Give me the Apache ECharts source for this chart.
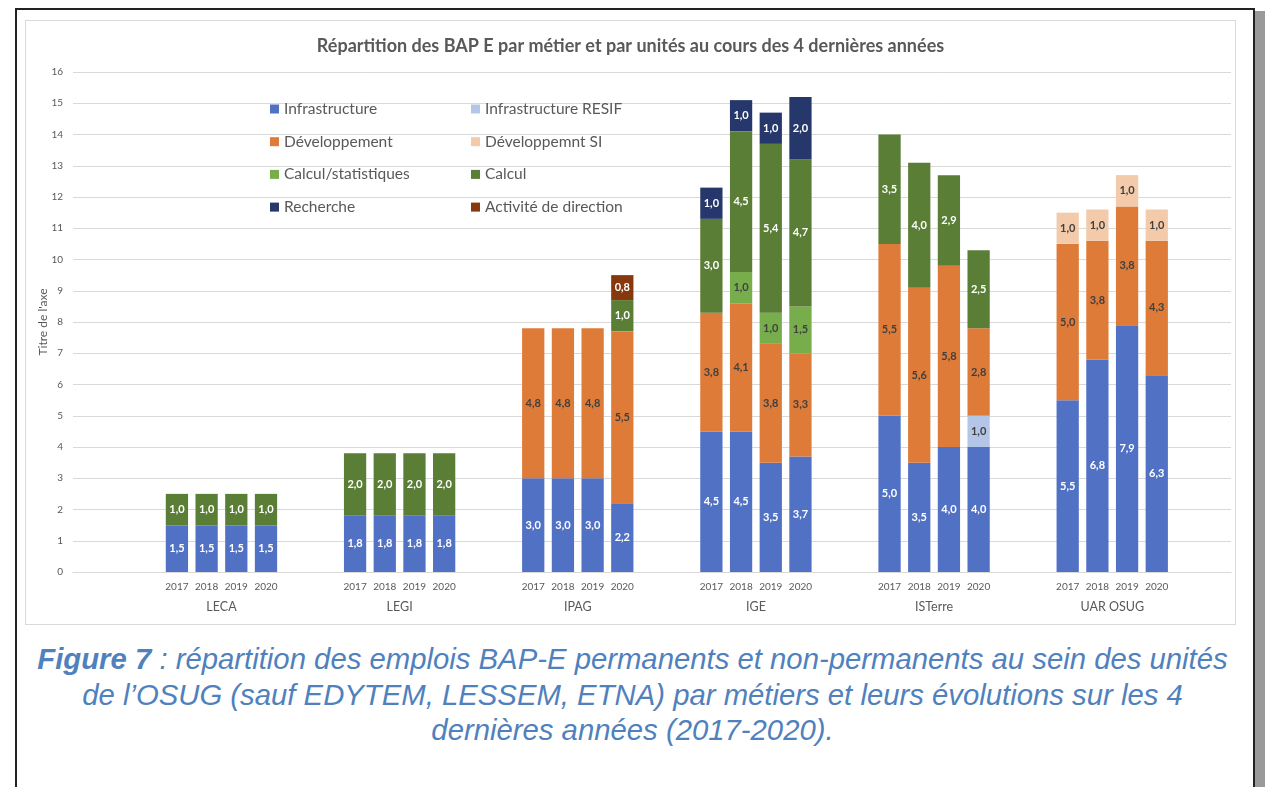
<!DOCTYPE html>
<html>
<head>
<meta charset="utf-8">
<script src="https://cdn.jsdelivr.net/npm/echarts@6/dist/echarts.min.js"></script>
<style>
  html, body { margin: 0; padding: 0; background: #fff; width: 1265px; height: 787px; overflow: hidden; }
  #frame { position: absolute; left: 15px; top: 8px; width: 1236px; height: 800px; border: 2px solid #222; border-bottom: none; }
  #shadow { position: absolute; left: 1255px; top: 11px; width: 10px; height: 790px; background: #9a9a9a; }
  #box { position: absolute; left: 25px; top: 20px; width: 1211px; height: 605px; border: 1px solid #d9d9d9; box-sizing: border-box; }
  #chart { width: 100%; height: 100%; }
  #caption { position: absolute; left: 0px; top: 641px; width: 1265px; text-align: center;
    font-family: "Liberation Sans", Arial, sans-serif; font-style: italic; font-size: 29.3px;
    line-height: 35.5px; color: #4f81bd; white-space: nowrap; }
  #caption b { font-weight: bold; }
</style>
</head>
<body>
<div id="frame"></div>
<div id="shadow"></div>
<div id="box"><div id="chart"></div></div>
<div id="caption"><b>Figure 7</b> : répartition des emplois BAP-E permanents et non-permanents au sein des unités<br>de l’OSUG (sauf EDYTEM, LESSEM, ETNA) par métiers et leurs évolutions sur les 4<br>dernières années (2017-2020).</div>
<script>
// catégories
var groups = ['LECA', 'LEGI', 'IPAG', 'IGE', 'ISTerre', 'UAR OSUG'];
var years = ['2017', '2018', '2019', '2020'];
var yTicks = [0, 16, 1];

// valeurs : 6 unités x 4 années
var infra     = [1.5, 1.5, 1.5, 1.5,  1.8, 1.8, 1.8, 1.8,  3.0, 3.0, 3.0, 2.2,  4.5, 4.5, 3.5, 3.7,  5.0, 3.5, 4.0, 4.0,  5.5, 6.8, 7.9, 6.3];
var resif     = [null, null, null, null,  null, null, null, null,  null, null, null, null,  null, null, null, null,  null, null, null, 1.0,  null, null, null, null];
var dev       = [null, null, null, null,  null, null, null, null,  4.8, 4.8, 4.8, 5.5,  3.8, 4.1, 3.8, 3.3,  5.5, 5.6, 5.8, 2.8,  5.0, 3.8, 3.8, 4.3];
var devSI     = [null, null, null, null,  null, null, null, null,  null, null, null, null,  null, null, null, null,  null, null, null, null,  1.0, 1.0, 1.0, 1.0];
var calcStat  = [null, null, null, null,  null, null, null, null,  null, null, null, null,  null, 1.0, 1.0, 1.5,  null, null, null, null,  null, null, null, null];
var calcul    = [1.0, 1.0, 1.0, 1.0,  2.0, 2.0, 2.0, 2.0,  null, null, null, 1.0,  3.0, 4.5, 5.4, 4.7,  3.5, 4.0, 2.9, 2.5,  null, null, null, null];
var recherche = [null, null, null, null,  null, null, null, null,  null, null, null, null,  1.0, 1.0, 1.0, 2.0,  null, null, null, null,  null, null, null, null];
var direction = [null, null, null, null,  null, null, null, null,  null, null, null, 0.8,  null, null, null, null,  null, null, null, null,  null, null, null, null];

// comme dans Excel : 3 cases vides au début, 2 entre chaque unité
var lead = 3, gap = 2;

function slots(arr) {
  var out = [];
  for (var i = 0; i < lead; i++) out.push(arr === null ? '' : null);
  for (var g = 0; g < groups.length; g++) {
    for (var y = 0; y < years.length; y++) out.push(arr === null ? years[y] : arr[g * years.length + y]);
    for (var k = 0; k < gap; k++) out.push(arr === null ? '' : null);
  }
  return out;
}
var cats = slots(null);
var groupPos = groups.map(function (g, i) { return lead + i * (years.length + gap) + years.length / 2; });

var font = 'Lato, "Open Sans", sans-serif';
var dark = '#404040';

function serie(name, data, color, labelColor) {
  return {
    name: name, type: 'bar', stack: 'total', data: slots(data),
    barCategoryGap: '25%',
    itemStyle: { color: color },
    label: {
      show: true, position: 'inside', color: labelColor,
      fontFamily: font, fontWeight: 'bold', fontSize: 11,
      formatter: function (p) { return p.value == null ? '' : p.value.toFixed(1).replace('.', ','); }
    }
  };
}

var chart = echarts.init(document.getElementById('chart'));

var legendText = { color: '#595959', fontSize: 15.5, fontFamily: font, lineHeight: 15 };

chart.setOption({
  animation: false,
  textStyle: { fontFamily: font },
  title: {
    text: 'Répartition des BAP E par métier et par unités au cours des 4 dernières années',
    left: 'center', top: 11,
    textStyle: { color: '#595959', fontSize: 18, fontWeight: 'bold', fontFamily: font }
  },
  legend: [
    { data: ['Infrastructure', 'Développement', 'Calcul/statistiques', 'Recherche'],
      orient: 'vertical', left: 239, top: 75, itemWidth: 9, itemHeight: 9, itemGap: 16.7,
      icon: 'rect', textStyle: legendText, selectedMode: false },
    { data: ['Infrastructure RESIF', 'Développemnt SI', 'Calcul', 'Activité de direction'],
      orient: 'vertical', left: 440, top: 75, itemWidth: 9, itemHeight: 9, itemGap: 16.7,
      icon: 'rect', textStyle: legendText, selectedMode: false }
  ],
  grid: { left: 47, right: 4, top: 51, bottom: 52, outerBoundsMode: 'none' },
  xAxis: [
    { type: 'category', data: cats,
      axisLine: { lineStyle: { color: '#d9d9d9' } },
      axisTick: { show: false },
      axisLabel: { interval: 0, color: '#595959', fontSize: 10, margin: 10 } },
    { type: 'value', min: 0, max: cats.length, position: 'bottom',
      axisLine: { show: false }, axisTick: { show: false }, splitLine: { show: false },
      axisLabel: { customValues: groupPos, margin: 28, color: '#595959', fontSize: 12.5,
        formatter: function (v) { return groups[groupPos.indexOf(v)] || ''; } } }
  ],
  yAxis: {
    type: 'value', min: yTicks[0], max: yTicks[1], interval: yTicks[2],
    name: 'Titre de l\'axe', nameLocation: 'middle', nameGap: 24, nameMoveOverlap: false,
    nameTextStyle: { color: '#595959', fontSize: 12 },
    axisLine: { show: false }, axisTick: { show: false },
    axisLabel: { color: '#595959', fontSize: 10, margin: 10 },
    splitLine: { lineStyle: { color: '#d9d9d9' } }
  },
  series: [
    serie('Infrastructure', infra, '#5071c4', '#ffffff'),
    serie('Infrastructure RESIF', resif, '#b4c6e7', dark),
    serie('Développement', dev, '#df7b38', dark),
    serie('Développemnt SI', devSI, '#f3cbaa', dark),
    serie('Calcul/statistiques', calcStat, '#78ad4c', dark),
    serie('Calcul', calcul, '#5a7e35', '#ffffff'),
    serie('Recherche', recherche, '#26386b', '#ffffff'),
    serie('Activité de direction', direction, '#86390f', '#ffffff')
  ]
});
</script>
</body>
</html>
